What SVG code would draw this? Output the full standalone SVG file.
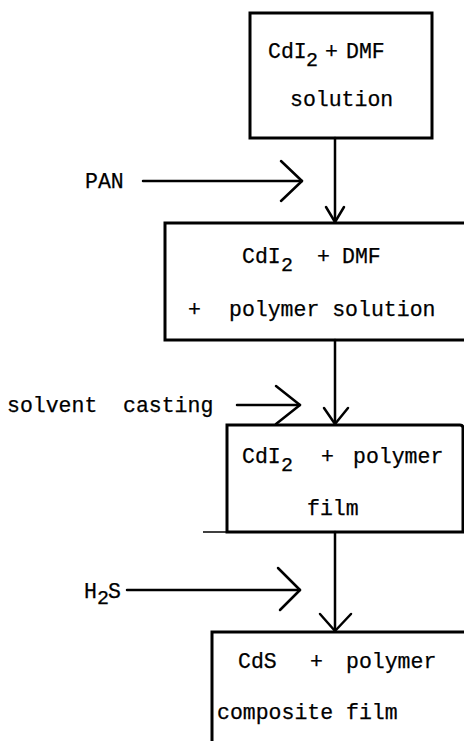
<svg xmlns="http://www.w3.org/2000/svg" width="464" height="741" viewBox="0 0 464 741">
<style>
text{font-family:"Liberation Mono","Courier New",monospace;font-size:21.5px;fill:#000;stroke:#000;stroke-width:0.25}
.sub{font-size:20px}
.box{fill:none;stroke:#000;stroke-width:3}
.ln{fill:none;stroke:#000;stroke-width:2.5;stroke-linecap:round;stroke-linejoin:round}
</style>
<rect width="464" height="741" fill="#fff"/>
<g id="node1">
<rect class="box" x="250" y="13" width="182" height="125"/>
<text x="268" y="58">CdI</text><text class="sub" x="306" y="66">2</text><text x="325" y="58">+</text><text x="346" y="58">DMF</text>
<text x="290" y="106">solution</text>
</g>
<g id="node2">
<rect class="box" x="165" y="223" width="310" height="117"/>
<text x="242" y="263">CdI</text><text class="sub" x="281" y="271">2</text><text x="317" y="263">+</text><text x="342" y="263">DMF</text>
<text x="188" y="316">+</text><text x="229" y="316">polymer solution</text>
</g>
<g id="node3">
<path class="box" d="M227,425 H460 Q463,425 463,428 V532 H227 Z"/>
<line x1="203" y1="532" x2="227" y2="532" stroke="#000" stroke-width="1.5"/>
<text x="242" y="463">CdI</text><text class="sub" x="281" y="471">2</text><text x="321" y="463">+</text><text x="353" y="463">polymer</text>
<text x="307" y="515">film</text>
</g>
<g id="node4">
<rect class="box" x="212" y="632" width="270" height="130"/>
<text x="238" y="668">CdS</text><text x="310" y="668">+</text><text x="346" y="668">polymer</text>
<text x="217" y="719">composite film</text>
</g>
<g id="labels">
<text x="85" y="188">PAN</text>
<text x="7" y="412">solvent</text><text x="123" y="412">casting</text>
<text x="84" y="598">H</text><text class="sub" x="97" y="604">2</text><text x="108" y="598">S</text>
</g>
<g id="connectors">
<line class="ln" x1="335" y1="138" x2="335" y2="222"/>
<polyline class="ln" points="326,207 335,222 344,207"/>
<line class="ln" x1="143" y1="181" x2="302" y2="181"/>
<polyline class="ln" points="281,161 302,181 281,201"/>
<line class="ln" x1="335" y1="340" x2="335" y2="424"/>
<polyline class="ln" points="324,408 335,424 348,408"/>
<line class="ln" x1="237" y1="405" x2="300" y2="405"/>
<polyline class="ln" points="276,386 300,405 276,424"/>
<line class="ln" x1="335" y1="532" x2="335" y2="631"/>
<polyline class="ln" points="320,614 335,631 351,614"/>
<line class="ln" x1="127" y1="590" x2="300" y2="590"/>
<polyline class="ln" points="278,568 300,590 280,610"/>
</g>
</svg>
